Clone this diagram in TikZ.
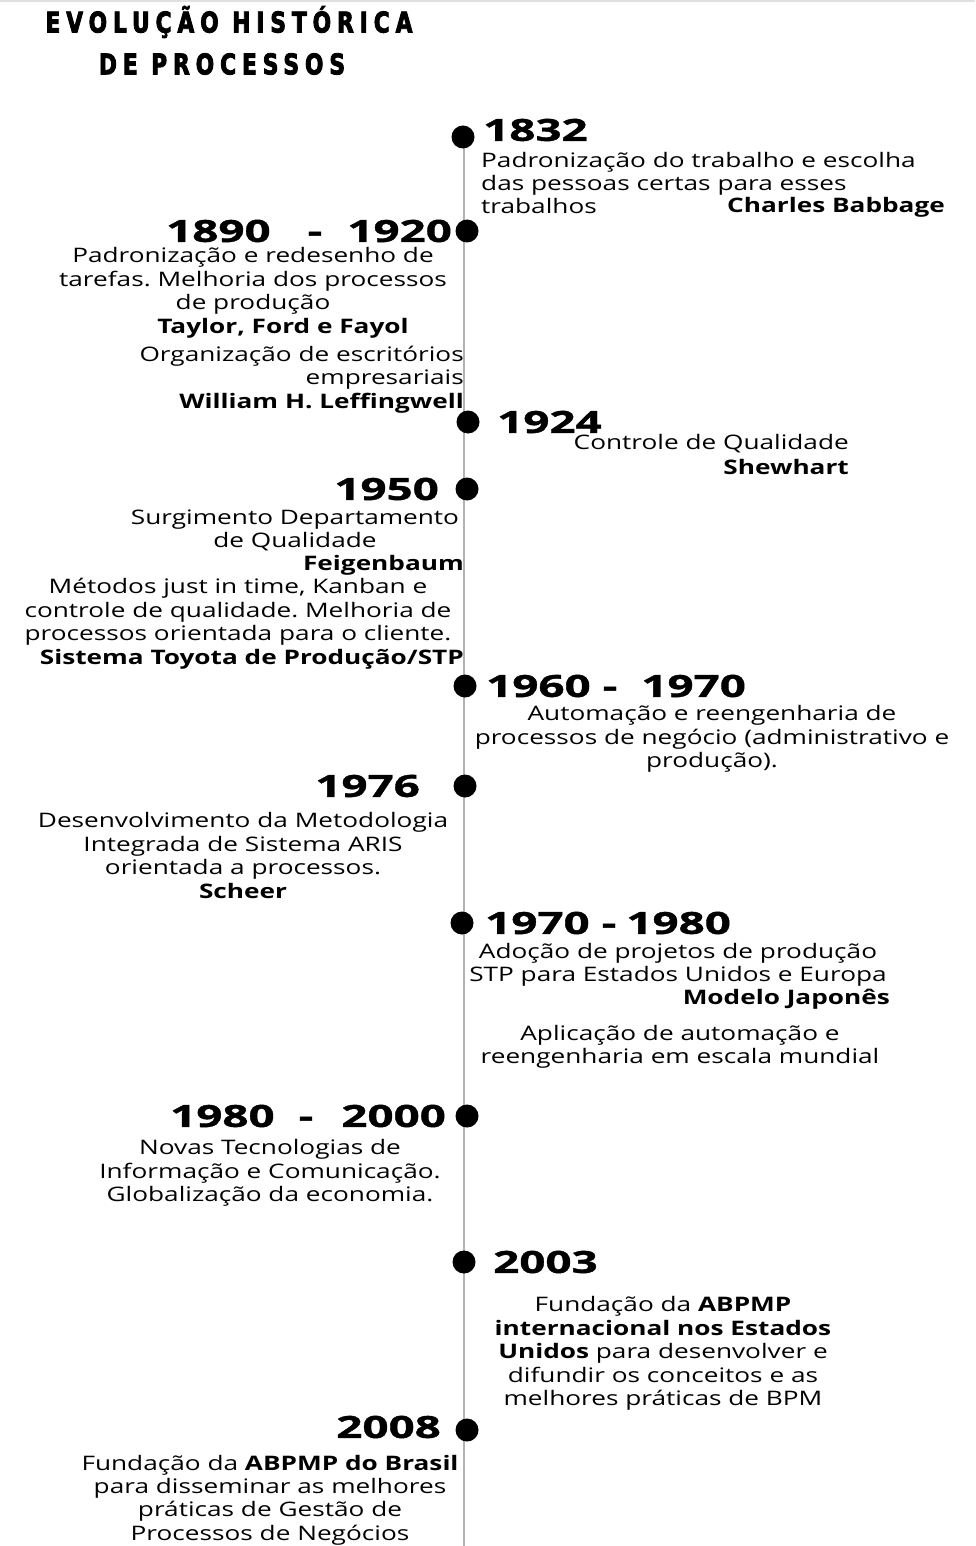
\documentclass[tikz,border=0pt]{standalone}
\usepackage{fontspec}
\usepackage{tikz}
\setmainfont{Open Sans}[FakeStretch=1.31]
\newfontfamily\yearfont{Open Sans}[FakeStretch=1.5, FakeBold=1.2]
\newfontfamily\titlefont{DejaVu Sans}[FakeStretch=0.76, LetterSpace=21, FakeBold=3]
\frenchspacing

\begin{document}
\begin{tikzpicture}[x=1pt, y=-1pt,
    dot/.style={circle, fill=black, minimum size=23pt, inner sep=0pt},
    yeartext/.style={font=\yearfont\bfseries\fontsize{30.5}{31}\selectfont, inner sep=0pt},
    body/.style={font=\fontsize{20}{23.4}\selectfont, inner sep=0pt, align=center, yshift=-1pt},
    who/.style={font=\bfseries\fontsize{20}{23.4}\selectfont, inner sep=0pt, yshift=-1pt},
    titletext/.style={font=\titlefont\bfseries\fontsize{28.5}{30}\selectfont, inner sep=0pt}]

% Define the line position
\def\linex{464}
\def\linetop{137}
\def\linebottom{1546}

% Define colors
\colorlet{linecolor}{black!30}
\colorlet{rulecolor}{black!12}

\useasboundingbox (0,0) rectangle (975,1546);

% Thin rule at the top
\draw[rulecolor, line width=1.5pt] (0,1) -- (975,1);

% Title
\node[titletext] (title1) at (229,22) {EVOLUÇÃO HISTÓRICA};
\node[titletext] (title2) at (222,64) {DE PROCESSOS};

% Draw the time line
\coordinate (linestart) at (\linex,\linetop);
\coordinate (lineend) at (\linex,\linebottom);
\draw[linecolor, line width=1.5pt] (linestart) -- (lineend);

% Draw the dots
\foreach \n/\xx/\yy in {1832/463/137, 1890/467/231, 1924/468/422, 1950/467/489,
    1960/465/686, 1976/465/786, 1970/462/923, 1980/467/1116, 2003/464/1262, 2008/467/1430}
    \node[dot] (d\n) at (\xx,\yy) {};

% Years on the right of the line
\node[yeartext, anchor=west] (y1832) at (483,130) {1832};
\node[yeartext, anchor=west] (y1924) at (497,422) {1924};
\node[yeartext, anchor=west] (y1960) at (486,686) {1960\hspace{12pt}-\hspace{24pt}1970};
\node[yeartext, anchor=west] (y1970) at (485,923) {1970\hspace{12pt}-\hspace{10pt}1980};
\node[yeartext, anchor=west] (y2003) at (493,1262) {2003};

% Years on the left of the line
\node[yeartext, anchor=east] (y1890) at (452,231) {1890\hspace{37pt}-\hspace{25pt}1920};
\node[yeartext, anchor=east] (y1950) at (439,489) {1950};
\node[yeartext, anchor=east] (y1976) at (420,786) {1976};
\node[yeartext, anchor=east] (y1980) at (446,1116) {1980\hspace{24pt}-\hspace{28pt}2000};
\node[yeartext, anchor=east] (y2008) at (441,1427) {2008};

% 1832
\node[body, align=left, anchor=west] (b1832) at (481,182)
    {Padronização do trabalho e escolha\\das pessoas certas para esses\\trabalhos};
\node[who, anchor=east] (n1832) at (945,206) {Charles Babbage};

% 1890 - 1920
\node[body] (b1890) at (253,280)
    {Padronização e redesenho de\\tarefas. Melhoria dos processos\\de produção};
\node[who] (n1890) at (283,327) {Taylor, Ford e Fayol};
\node[body, align=right, anchor=east] (b1890b) at (464,367)
    {Organização de escritórios\\empresariais};
\node[who, anchor=east] (n1890b) at (464,402) {William H. Leffingwell};

% 1924
\node[body, anchor=east] (b1924) at (849,443) {Controle de Qualidade};
\node[who, anchor=east] (n1924) at (849,466) {Shewhart};

% 1950
\node[body] (b1950) at (295,529.5) {Surgimento Departamento\\de Qualidade};
\node[who, anchor=east] (n1950) at (464,564) {Feigenbaum};
\node[body] (b1950b) at (238,611)
    {Métodos just in time, Kanban e\\controle de qualidade. Melhoria de\\processos orientada para o cliente.};
\node[who, anchor=east] (n1950b) at (464,658) {Sistema Toyota de Produção/STP};

% 1960 - 1970
\node[body] (b1960) at (712,738)
    {Automação e reengenharia de\\processos de negócio (administrativo e\\produção).};

% 1976
\node[body] (b1976) at (243,854.5)
    {Desenvolvimento da Metodologia\\Integrada de Sistema ARIS\\orientada a processos.\\\textbf{Scheer}};

% 1970 - 1980
\node[body] (b1970) at (678,963.5)
    {Adoção de projetos de produção\\STP para Estados Unidos e Europa};
\node[who, anchor=east] (n1970) at (890,998) {Modelo Japonês};
\node[body] (b1970b) at (680,1045.5)
    {Aplicação de automação e\\reengenharia em escala mundial};

% 1980 - 2000
\node[body] (b1980) at (270,1172)
    {Novas Tecnologias de\\Informação e Comunicação.\\Globalização da economia.};

% 2003
\node[body] (b2003) at (663,1352.5)
    {Fundação da \textbf{ABPMP}\\\textbf{internacional nos Estados}\\\textbf{Unidos} para desenvolver e\\difundir os conceitos e as\\melhores práticas de BPM};

% 2008
\node[body] (b2008) at (270,1499)
    {Fundação da \textbf{ABPMP do Brasil}\\para disseminar as melhores\\práticas de Gestão de\\Processos de Negócios};

\end{tikzpicture}
\end{document}
